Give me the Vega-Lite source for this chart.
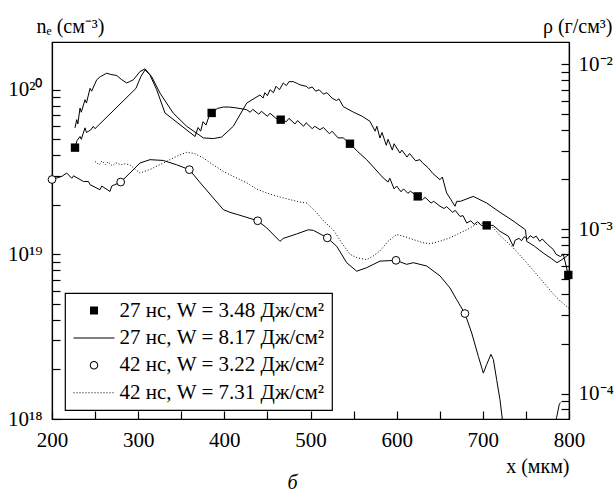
{
  "$schema": "https://vega.github.io/schema/vega-lite/v6.json",
  "width": 517,
  "height": 377,
  "autosize": "none",
  "padding": {"left": 52, "top": 42, "right": 47, "bottom": 76},
  "background": "white",
  "title": {"text": "б", "orient": "bottom", "anchor": "middle", "font": "Liberation Serif", "fontSize": 20, "fontStyle": "italic", "fontWeight": "normal", "color": "black", "offset": -3, "dx": -18},
  "layer": [
    {
      "layer": [
        {
          "data": {"values": [
            {"s":"A","x":226.7,"n":4.45e19},{"s":"A","x":229,"n":4.9e19},{"s":"A","x":232.5,"n":5.2e19},{"s":"A","x":234,"n":5.0e19},{"s":"A","x":238.3,"n":5.87e19},{"s":"A","x":240,"n":5.5e19},{"s":"A","x":242.1,"n":5.58e19},{"s":"A","x":245,"n":5.7e19},{"s":"A","x":247.9,"n":5.99e19},{"s":"A","x":249.9,"n":5.8e19},{"s":"A","x":297.5,"n":1.02e20},{"s":"A","x":303,"n":1.2e20},{"s":"A","x":308,"n":1.32e20},{"s":"A","x":313.7,"n":1.23e20},{"s":"A","x":321.5,"n":1.0e20},{"s":"A","x":331.1,"n":7.23e19},{"s":"A","x":366,"n":5.2e19},{"s":"A","x":369.5,"n":5.9e19},{"s":"A","x":372.5,"n":5.6e19},{"s":"A","x":375.3,"n":6.4e19},{"s":"A","x":378.7,"n":6.1e19},{"s":"A","x":382.2,"n":6.9e19},{"s":"A","x":385.3,"n":7.23e19},{"s":"A","x":392,"n":7.7e19},{"s":"A","x":398.8,"n":7.85e19},{"s":"A","x":406,"n":7.85e19},{"s":"A","x":414.3,"n":7.75e19},{"s":"A","x":425.9,"n":7.57e19},{"s":"A","x":430,"n":7.3e19},{"s":"A","x":433,"n":7.6e19},{"s":"A","x":440,"n":7.1e19},{"s":"A","x":443,"n":7.4e19},{"s":"A","x":450,"n":6.9e19},{"s":"A","x":453,"n":7.2e19},{"s":"A","x":460,"n":6.7e19},{"s":"A","x":465.4,"n":6.58e19},{"s":"A","x":472,"n":6.4e19},{"s":"A","x":475,"n":6.7e19},{"s":"A","x":482,"n":6.2e19},{"s":"A","x":485,"n":6.5e19},{"s":"A","x":492,"n":6.0e19},{"s":"A","x":495,"n":6.3e19},{"s":"A","x":502,"n":5.8e19},{"s":"A","x":505,"n":6.0e19},{"s":"A","x":511,"n":5.72e19},{"s":"A","x":515,"n":5.9e19},{"s":"A","x":522,"n":5.4e19},{"s":"A","x":525,"n":5.6e19},{"s":"A","x":532,"n":5.1e19},{"s":"A","x":538,"n":5.1e19},{"s":"A","x":545.8,"n":4.7e19},{"s":"A","x":555,"n":4.2e19},{"s":"A","x":565.2,"n":3.76e19},{"s":"A","x":575,"n":3.3e19},{"s":"A","x":584.5,"n":2.91e19},{"s":"A","x":590,"n":2.75e19},{"s":"A","x":592,"n":2.9e19},{"s":"A","x":597,"n":2.5e19},{"s":"A","x":600,"n":2.6e19},{"s":"A","x":605,"n":2.4e19},{"s":"A","x":608,"n":2.5e19},{"s":"A","x":613,"n":2.35e19},{"s":"A","x":616,"n":2.42e19},{"s":"A","x":624.4,"n":2.25e19},{"s":"A","x":630,"n":2.15e19},{"s":"A","x":633,"n":2.22e19},{"s":"A","x":640,"n":2.05e19},{"s":"A","x":643,"n":2.1e19},{"s":"A","x":650.3,"n":1.96e19},{"s":"A","x":655,"n":1.9e19},{"s":"A","x":658,"n":1.95e19},{"s":"A","x":665,"n":1.8e19},{"s":"A","x":668,"n":1.85e19},{"s":"A","x":673.5,"n":1.7e19},{"s":"A","x":677,"n":1.72e19},{"s":"A","x":681.3,"n":1.55e19},{"s":"A","x":686,"n":1.6e19},{"s":"A","x":690,"n":1.52e19},{"s":"A","x":694,"n":1.58e19},{"s":"A","x":698,"n":1.5e19},{"s":"A","x":704.5,"n":1.5e19},{"s":"A","x":712,"n":1.5e19},{"s":"A","x":719.9,"n":1.38e19},{"s":"A","x":729.6,"n":1.29e19},{"s":"A","x":735.3,"n":1.12e19},{"s":"A","x":737.5,"n":1.22e19},{"s":"A","x":742,"n":1.25e19},{"s":"A","x":745,"n":1.21e19},{"s":"A","x":748,"n":1.28e19},{"s":"A","x":752,"n":1.24e19},{"s":"A","x":755,"n":1.3e19},{"s":"A","x":758.5,"n":1.26e19},{"s":"A","x":762,"n":1.29e19},{"s":"A","x":766,"n":1.2e19},{"s":"A","x":769,"n":1.24e19},{"s":"A","x":775,"n":1.15e19},{"s":"A","x":781.8,"n":1.07e19},{"s":"A","x":785,"n":1.0e19},{"s":"A","x":790,"n":9.7e18},{"s":"A","x":793.4,"n":1.0e19},{"s":"A","x":799.2,"n":7.5e18},
            {"s":"B","x":226.7,"n":5.87e19},{"s":"B","x":228.7,"n":6.58e19},{"s":"B","x":230,"n":6.2e19},{"s":"B","x":232.5,"n":7.74e19},{"s":"B","x":234,"n":7.3e19},{"s":"B","x":238.3,"n":8.7e19},{"s":"B","x":240,"n":8.3e19},{"s":"B","x":244.1,"n":1.02e20},{"s":"B","x":246,"n":9.8e19},{"s":"B","x":251.9,"n":1.15e20},{"s":"B","x":256,"n":1.2e20},{"s":"B","x":263.5,"n":1.26e20},{"s":"B","x":268,"n":1.24e20},{"s":"B","x":275.1,"n":1.22e20},{"s":"B","x":281,"n":1.15e20},{"s":"B","x":286.7,"n":1.1e20},{"s":"B","x":290,"n":1.12e20},{"s":"B","x":294.4,"n":1.15e20},{"s":"B","x":302.1,"n":1.29e20},{"s":"B","x":308,"n":1.34e20},{"s":"B","x":315.7,"n":1.2e20},{"s":"B","x":325.3,"n":9.55e19},{"s":"B","x":340.8,"n":7.2e19},{"s":"B","x":356.3,"n":6.0e19},{"s":"B","x":375.6,"n":5.1e19},{"s":"B","x":387.2,"n":5.05e19},{"s":"B","x":396.9,"n":5.16e19},{"s":"B","x":410.4,"n":6.0e19},{"s":"B","x":426,"n":8.3e19},{"s":"B","x":441.4,"n":9.3e19},{"s":"B","x":445,"n":8.9e19},{"s":"B","x":447,"n":9.6e19},{"s":"B","x":450,"n":9.2e19},{"s":"B","x":453,"n":1.0e20},{"s":"B","x":457,"n":9.6e19},{"s":"B","x":460,"n":1.05e20},{"s":"B","x":464,"n":1.0e20},{"s":"B","x":468.4,"n":1.1e20},{"s":"B","x":472,"n":1.06e20},{"s":"B","x":475,"n":1.12e20},{"s":"B","x":480,"n":1.12e20},{"s":"B","x":485,"n":1.09e20},{"s":"B","x":488,"n":1.07e20},{"s":"B","x":495,"n":1.05e20},{"s":"B","x":498,"n":1.02e20},{"s":"B","x":502,"n":1.04e20},{"s":"B","x":506,"n":9.8e19},{"s":"B","x":510,"n":1.0e20},{"s":"B","x":515,"n":9.4e19},{"s":"B","x":519,"n":9.6e19},{"s":"B","x":525,"n":8.9e19},{"s":"B","x":530,"n":8.6e19},{"s":"B","x":533,"n":8.8e19},{"s":"B","x":538,"n":7.9e19},{"s":"B","x":550,"n":7.3e19},{"s":"B","x":560,"n":6.9e19},{"s":"B","x":569,"n":6.43e19},{"s":"B","x":575,"n":5.6e19},{"s":"B","x":577,"n":6.0e19},{"s":"B","x":580.6,"n":5.09e19},{"s":"B","x":583,"n":5.5e19},{"s":"B","x":588,"n":4.6e19},{"s":"B","x":590,"n":5.0e19},{"s":"B","x":595,"n":4.3e19},{"s":"B","x":597,"n":4.7e19},{"s":"B","x":603.8,"n":4.13e19},{"s":"B","x":606,"n":4.3e19},{"s":"B","x":612,"n":3.9e19},{"s":"B","x":615,"n":4.1e19},{"s":"B","x":622,"n":3.7e19},{"s":"B","x":627,"n":3.76e19},{"s":"B","x":630,"n":3.6e19},{"s":"B","x":636.7,"n":3.35e19},{"s":"B","x":642,"n":3.1e19},{"s":"B","x":650.3,"n":2.84e19},{"s":"B","x":653,"n":2.95e19},{"s":"B","x":658,"n":2.36e19},{"s":"B","x":663,"n":2.15e19},{"s":"B","x":667.7,"n":1.96e19},{"s":"B","x":669.7,"n":2.1e19},{"s":"B","x":674,"n":2.1e19},{"s":"B","x":688.9,"n":2.25e19},{"s":"B","x":704.5,"n":2.05e19},{"s":"B","x":720,"n":1.8e19},{"s":"B","x":735,"n":1.6e19},{"s":"B","x":749.5,"n":1.41e19},{"s":"B","x":750.9,"n":1.2e19},{"s":"B","x":760,"n":1.12e19},{"s":"B","x":770,"n":1.02e19},{"s":"B","x":780,"n":9.4e18},{"s":"B","x":786,"n":8.9e18},{"s":"B","x":792,"n":9.3e18},{"s":"B","x":800,"n":1.0e19},
            {"s":"C","x":200,"n":2.85e19},{"s":"C","x":211.6,"n":2.98e19},{"s":"C","x":217,"n":3.12e19},{"s":"C","x":223,"n":2.9e19},{"s":"C","x":225,"n":3.0e19},{"s":"C","x":236.6,"n":2.77e19},{"s":"C","x":242.4,"n":2.77e19},{"s":"C","x":244.1,"n":2.65e19},{"s":"C","x":255.7,"n":2.47e19},{"s":"C","x":257.7,"n":2.6e19},{"s":"C","x":267.3,"n":2.41e19},{"s":"C","x":269.3,"n":2.6e19},{"s":"C","x":279.7,"n":2.75e19},{"s":"C","x":290.5,"n":3.12e19},{"s":"C","x":302.1,"n":3.59e19},{"s":"C","x":313.7,"n":3.76e19},{"s":"C","x":329.2,"n":3.72e19},{"s":"C","x":344.7,"n":3.5e19},{"s":"C","x":359.4,"n":3.27e19},{"s":"C","x":372.1,"n":2.72e19},{"s":"C","x":387.2,"n":2.2e19},{"s":"C","x":398.8,"n":1.87e19},{"s":"C","x":406.6,"n":1.8e19},{"s":"C","x":416.2,"n":1.74e19},{"s":"C","x":438.7,"n":1.6e19},{"s":"C","x":449.1,"n":1.45e19},{"s":"C","x":464.6,"n":1.2e19},{"s":"C","x":468.4,"n":1.25e19},{"s":"C","x":483.9,"n":1.33e19},{"s":"C","x":497.4,"n":1.41e19},{"s":"C","x":503.3,"n":1.4e19},{"s":"C","x":519.5,"n":1.26e19},{"s":"C","x":530.4,"n":1.12e19},{"s":"C","x":542,"n":8.9e18},{"s":"C","x":553.6,"n":7.9e18},{"s":"C","x":565.2,"n":8.3e18},{"s":"C","x":580.6,"n":9.1e18},{"s":"C","x":599.2,"n":9.2e18},{"s":"C","x":611.6,"n":8.7e18},{"s":"C","x":619.3,"n":8.9e18},{"s":"C","x":634.8,"n":8.5e18},{"s":"C","x":650.3,"n":7.4e18},{"s":"C","x":661.9,"n":6.25e18},{"s":"C","x":669.7,"n":5.3e18},{"s":"C","x":679.2,"n":4.37e18},{"s":"C","x":687.1,"n":3.33e18},{"s":"C","x":694.8,"n":2.4e18},{"s":"C","x":700.6,"n":1.9e18},{"s":"C","x":704.4,"n":2.14e18},{"s":"C","x":709.4,"n":2.47e18},{"s":"C","x":712.2,"n":2.3e18},{"s":"C","x":716,"n":1.74e18},{"s":"C","x":719.9,"n":1.31e18},{"s":"C","x":722.6,"n":1.0e18},{"s":"C","x":725,"n":8.5e17},
            {"s":"C","seg":2,"x":784,"n":8.5e17},{"s":"C","seg":2,"x":785.6,"n":1.02e18},{"s":"C","seg":2,"x":788.6,"n":1.22e18},{"s":"C","seg":2,"x":790,"n":1.26e18},
            {"s":"D","x":249.9,"n":3.67e19},{"s":"D","x":255,"n":3.5e19},{"s":"D","x":258,"n":3.7e19},{"s":"D","x":262,"n":3.5e19},{"s":"D","x":265,"n":3.65e19},{"s":"D","x":270,"n":3.45e19},{"s":"D","x":274,"n":3.6e19},{"s":"D","x":280,"n":3.5e19},{"s":"D","x":285,"n":3.55e19},{"s":"D","x":290.5,"n":3.5e19},{"s":"D","x":296,"n":3.3e19},{"s":"D","x":302.1,"n":3.12e19},{"s":"D","x":315,"n":3.3e19},{"s":"D","x":329.2,"n":3.59e19},{"s":"D","x":345,"n":3.95e19},{"s":"D","x":356.3,"n":4.17e19},{"s":"D","x":365,"n":4.1e19},{"s":"D","x":375.6,"n":3.85e19},{"s":"D","x":387,"n":3.5e19},{"s":"D","x":398.8,"n":3.19e19},{"s":"D","x":412,"n":2.95e19},{"s":"D","x":426,"n":2.72e19},{"s":"D","x":437,"n":2.5e19},{"s":"D","x":449.1,"n":2.36e19},{"s":"D","x":462,"n":2.25e19},{"s":"D","x":476.2,"n":2.15e19},{"s":"D","x":487.8,"n":2.08e19},{"s":"D","x":495.6,"n":2.05e19},{"s":"D","x":507.2,"n":1.79e19},{"s":"D","x":515,"n":1.6e19},{"s":"D","x":526.5,"n":1.41e19},{"s":"D","x":536,"n":1.18e19},{"s":"D","x":545.8,"n":1.0e19},{"s":"D","x":555,"n":9.5e18},{"s":"D","x":565.2,"n":9.3e18},{"s":"D","x":572,"n":9.7e18},{"s":"D","x":580.6,"n":1.05e19},{"s":"D","x":590,"n":1.2e19},{"s":"D","x":600,"n":1.32e19},{"s":"D","x":610,"n":1.28e19},{"s":"D","x":619.3,"n":1.23e19},{"s":"D","x":630,"n":1.18e19},{"s":"D","x":638.7,"n":1.16e19},{"s":"D","x":650,"n":1.2e19},{"s":"D","x":661.9,"n":1.26e19},{"s":"D","x":671,"n":1.33e19},{"s":"D","x":681.3,"n":1.41e19},{"s":"D","x":690,"n":1.5e19},{"s":"D","x":697,"n":1.55e19},{"s":"D","x":708.6,"n":1.52e19},{"s":"D","x":720,"n":1.3e19},{"s":"D","x":735,"n":1.1e19},{"s":"D","x":750,"n":9.0e18},{"s":"D","x":766,"n":7.2e18},{"s":"D","x":781,"n":5.8e18},{"s":"D","x":790,"n":5.2e18},{"s":"D","x":800,"n":4.7e18}
          ]},
          "layer": [
            {
              "transform": [{"filter": "datum.s != 'D'"}],
              "mark": {"type": "line", "color": "black", "strokeWidth": 1, "clip": true},
              "encoding": {
                "x": {"field": "x", "type": "quantitative", "scale": {"domain": [200, 800], "nice": false, "zero": false},
                  "axis": {"values": [200,250,300,350,400,450,500,550,600,650,700,750,800], "labelExpr": "datum.value % 100 == 0 ? format(datum.value, 'd') : ''", "tickSize": -8, "labelPadding": 18, "labelFlush": false, "labelOverlap": false, "grid": false,
                    "title": "x (мкм)", "titleAlign": "right", "titleBaseline": "alphabetic", "titleX": 517, "titleY": 53, "titleAngle": 0}},
                "y": {"field": "n", "type": "quantitative", "scale": {"type": "log", "domain": [1e18, 1.95e20], "nice": false},
                  "axis": {"orient": "left", "values": [1e18,2e18,3e18,4e18,5e18,6e18,7e18,8e18,9e18,1e19,2e19,3e19,4e19,5e19,6e19,7e19,8e19,9e19,1e20], "labelExpr": "datum.value == 1e20 ? '10²⁰' : datum.value == 1e19 ? '10¹⁹' : datum.value == 1e18 ? '10¹⁸' : ''", "tickSize": -8, "labelPadding": 18, "labelFlush": false, "labelOverlap": false, "grid": false,
                    "title": "nₑ (см⁻³)", "titleAngle": 0, "titleAlign": "left", "titleBaseline": "alphabetic", "titleX": -16, "titleY": -10}},
                "detail": [{"field": "s"}, {"field": "seg"}]
              }
            },
            {
              "transform": [{"filter": "datum.s == 'D'"}],
              "mark": {"type": "line", "color": "black", "strokeWidth": 1, "strokeDash": [1, 2], "clip": true},
              "encoding": {
                "x": {"field": "x", "type": "quantitative"},
                "y": {"field": "n", "type": "quantitative"}
              }
            }
          ]
        },
        {
          "data": {"values": [
            {"s":"A","x":226.7,"n":4.45e19},{"s":"A","x":385.3,"n":7.23e19},{"s":"A","x":465.4,"n":6.58e19},{"s":"A","x":545.8,"n":4.7e19},{"s":"A","x":624.4,"n":2.25e19},{"s":"A","x":704.5,"n":1.5e19},{"s":"A","x":799.2,"n":7.5e18}
          ]},
          "mark": {"type": "point", "shape": "square", "filled": true, "color": "black", "size": 70, "opacity": 1},
          "encoding": {
            "x": {"field": "x", "type": "quantitative"},
            "y": {"field": "n", "type": "quantitative"}
          }
        },
        {
          "data": {"values": [
            {"s":"C","x":200,"n":2.85e19},{"s":"C","x":279.7,"n":2.75e19},{"s":"C","x":359.4,"n":3.27e19},{"s":"C","x":438.7,"n":1.6e19},{"s":"C","x":519.5,"n":1.26e19},{"s":"C","x":599.2,"n":9.2e18},{"s":"C","x":679.2,"n":4.37e18}
          ]},
          "mark": {"type": "point", "shape": "circle", "filled": false, "fill": "white", "fillOpacity": 1, "stroke": "black", "strokeWidth": 1, "size": 60, "opacity": 1},
          "encoding": {
            "x": {"field": "x", "type": "quantitative"},
            "y": {"field": "n", "type": "quantitative"}
          }
        },
        {
          "data": {"values": [
            {"s":"A","x":500,"n":1e19},{"s":"B","x":500,"n":1e19},{"s":"C","x":500,"n":1e19},{"s":"D","x":500,"n":1e19}
          ]},
          "mark": {"type": "point", "filled": true, "color": "black", "opacity": 0, "size": 100},
          "encoding": {
            "x": {"field": "x", "type": "quantitative"},
            "y": {"field": "n", "type": "quantitative"},
            "shape": {"field": "s", "type": "nominal",
              "scale": {"domain": ["A","B","C","D"], "range": [
                "M-0.8,-0.8H0.8V0.8H-0.8Z",
                "M-4.1,-0.1H4.1V0.1H-4.1Z",
                "M0.85,0A0.85,0.85,0,1,1,-0.85,0A0.85,0.85,0,1,1,0.85,0ZM0.65,0A0.65,0.65,0,1,0,-0.65,0A0.65,0.65,0,1,0,0.65,0Z",
                "M-4.1,-0.1h0.2v0.2h-0.2ZM-3.5,-0.1h0.2v0.2h-0.2ZM-2.9,-0.1h0.2v0.2h-0.2ZM-2.3,-0.1h0.2v0.2h-0.2ZM-1.7,-0.1h0.2v0.2h-0.2ZM-1.1,-0.1h0.2v0.2h-0.2ZM-0.5,-0.1h0.2v0.2h-0.2ZM0.1,-0.1h0.2v0.2h-0.2ZM0.7,-0.1h0.2v0.2h-0.2ZM1.3,-0.1h0.2v0.2h-0.2ZM1.9,-0.1h0.2v0.2h-0.2ZM2.5,-0.1h0.2v0.2h-0.2ZM3.1,-0.1h0.2v0.2h-0.2ZM3.7,-0.1h0.2v0.2h-0.2Z"]},
              "legend": {"title": null, "orient": "none", "legendX": 13, "legendY": 251, "symbolOffset": 11.5, "labelOffset": 15,
                "symbolOpacity": 1, "symbolFillColor": "black", "symbolStrokeWidth": 0,
                "labelExpr": "datum.label == 'A' ? '27 нс, W = 3.48 Дж/см²' : datum.label == 'B' ? '27 нс, W = 8.17 Дж/см²' : datum.label == 'C' ? '42 нс, W = 3.22 Дж/см²' : '42 нс, W = 7.31 Дж/см²'"}}
          }
        }
      ]
    },
    {
      "data": {"values": [{"x": 500, "r": 0.001}]},
      "mark": {"type": "point", "opacity": 0},
      "encoding": {
        "x": {"field": "x", "type": "quantitative"},
        "y": {"field": "r", "type": "quantitative", "scale": {"type": "log", "domain": [7.0e-5, 0.0137], "nice": false},
          "axis": {"orient": "right", "values": [8e-5,9e-5,1e-4,2e-4,3e-4,4e-4,5e-4,6e-4,7e-4,8e-4,9e-4,1e-3,2e-3,3e-3,4e-3,5e-3,6e-3,7e-3,8e-3,9e-3,1e-2], "labelExpr": "datum.value == 0.01 ? '10⁻²' : datum.value == 0.001 ? '10⁻³' : datum.value == 0.0001 ? '10⁻⁴' : ''", "tickSize": -8, "labelPadding": 17, "labelFlush": false, "labelOverlap": false, "grid": false,
            "title": "ρ (г/см³)", "titleAngle": 0, "titleAlign": "right", "titleBaseline": "alphabetic", "titleX": 43, "titleY": -10}}
      }
    }
  ],
  "resolve": {"scale": {"y": "independent"}, "axis": {"y": "independent"}},
  "config": {
    "view": {"stroke": "black", "strokeWidth": 1.2},
    "axis": {"labelFont": "Liberation Serif", "labelFontSize": 21, "labelColor": "black", "titleFont": "Liberation Serif", "titleFontSize": 20, "titleFontWeight": "normal", "titleColor": "black", "domainColor": "black", "domainWidth": 1.2, "tickColor": "black", "tickWidth": 1.2},
    "legend": {"labelFont": "Liberation Serif", "labelFontSize": 21, "labelColor": "black", "labelLimit": 0, "strokeColor": "black", "strokeWidth": 1.2, "fillColor": "white", "padding": 7, "rowPadding": 5.4, "symbolSize": 100, "cornerRadius": 0}
  }
}
